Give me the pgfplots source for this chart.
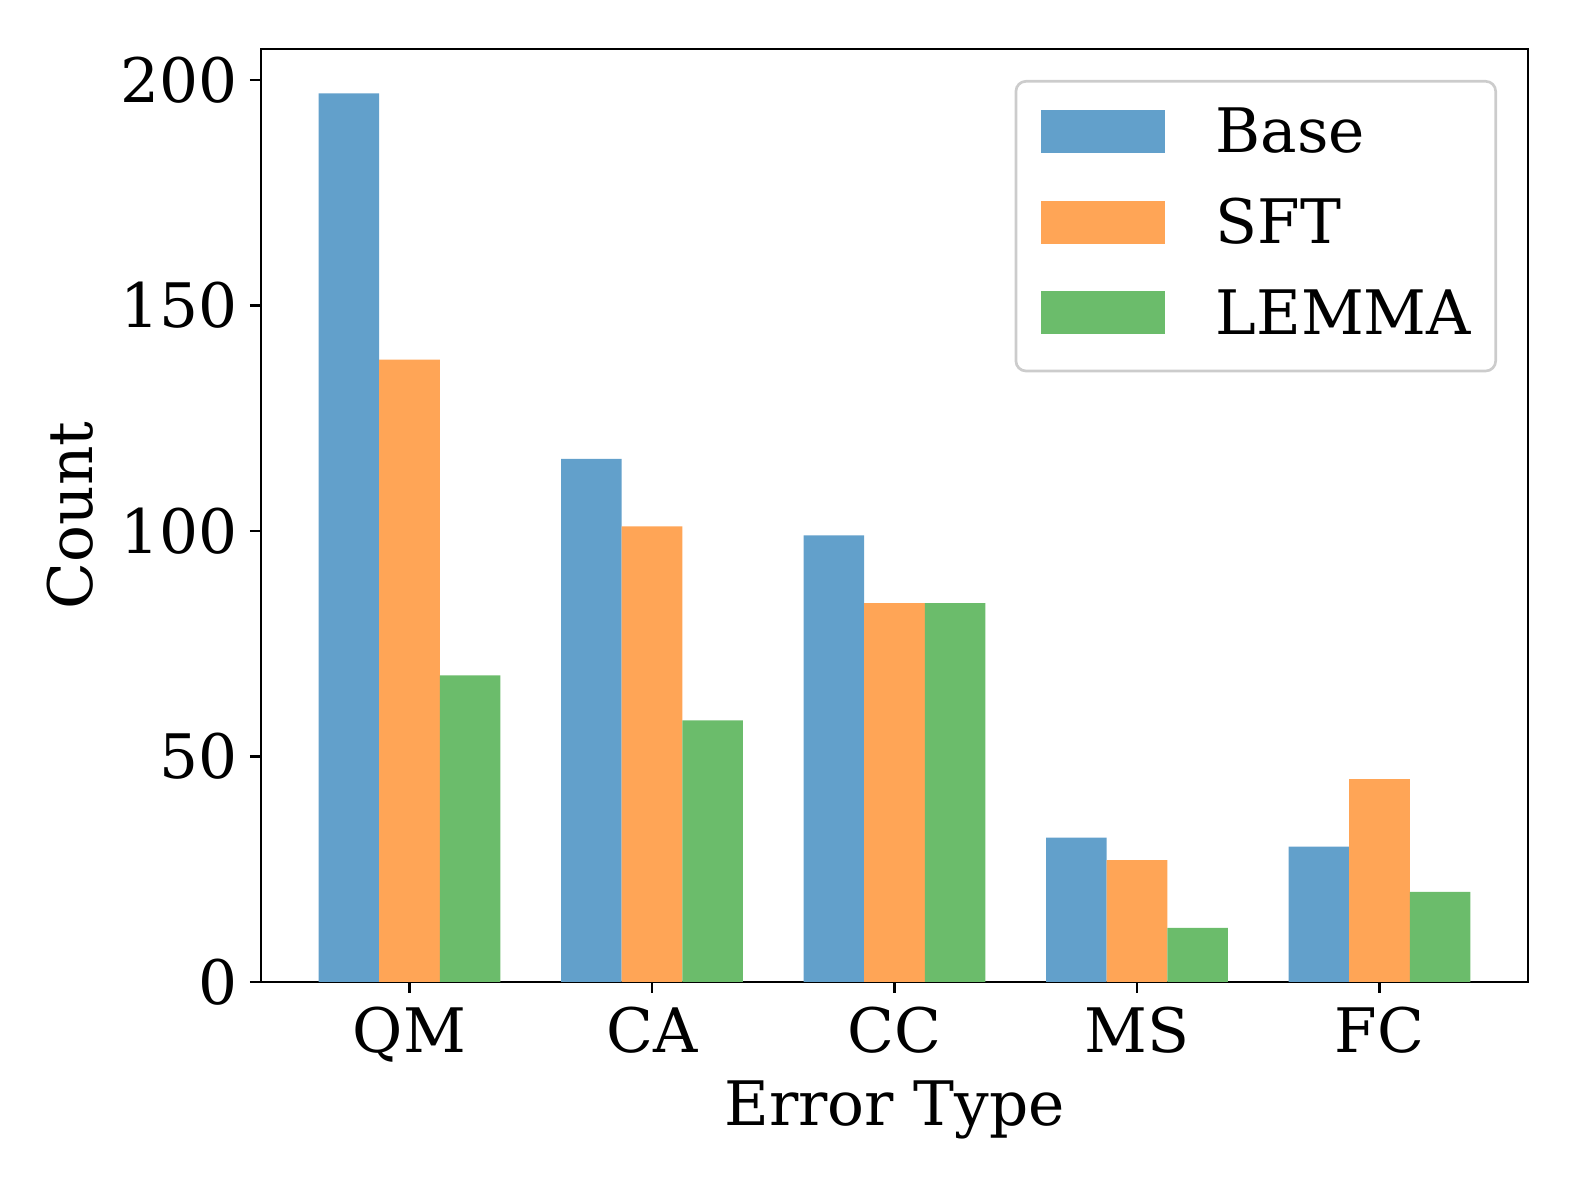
\documentclass[border=0pt]{standalone}
\usepackage{fontspec}
\setmainfont{DejaVu Serif}
\usepackage{pgfplots}
\pgfplotsset{compat=1.18}

\definecolor{cbase}{RGB}{98,160,203}
\definecolor{csft}{RGB}{255,165,86}
\definecolor{clemma}{RGB}{107,188,107}

\begin{document}%
\begin{tikzpicture}[font=\fontsize{18.4}{22}\selectfont]
\useasboundingbox (-78.3pt,-60.3pt) rectangle (394.8pt,294.6pt);
\begin{axis}[
    at={(0pt,0pt)}, anchor=south west,
    scale only axis,
    width=380.1pt, height=279.9pt,
    xmin=-0.6125, xmax=4.6125,
    ymin=0, ymax=206.85,
    xtick={0,1,2,3,4},
    xticklabels={QM,CA,CC,MS,FC},
    ytick={0,50,100,150,200},
    tick align=outside,
    major tick length=3.3pt,
    xtick pos=bottom, ytick pos=left,
    axis line style={line width=0.8pt},
    every tick/.style={black, line width=0.8pt},
    xticklabel style={inner sep=4pt},
    yticklabel style={inner sep=3.5pt},
    /pgf/number format/assume math mode=true,
    xlabel={Error Type}, ylabel={Count},
    every axis x label/.style={at={(axis description cs:0.5,-0.137)}, anchor=center},
    every axis y label/.style={at={(axis description cs:-0.1508,0.5)}, rotate=90, anchor=center},
    ybar, bar width=0.25,
    legend cell align=left,
    legend image code/.code={
        \fill[#1, sharp corners, fill opacity=1] (0pt,-5.25pt) rectangle (37.2pt,7.65pt);
    },
    legend style={
        at={(axis description cs:1,1)}, anchor=north east,
        xshift=-9.3pt, yshift=-9.3pt,
        draw=black!20, line width=0.8pt, rounded corners=3pt,
        fill=white, fill opacity=0.8, text opacity=1,
        inner xsep=7.4pt, inner ysep=8.1pt,
        row sep=10.9pt, column sep=15.3pt,
        nodes={inner sep=0pt, text height=13.4pt, text depth=2.9pt},
    },
]
\addplot[draw=none, fill=cbase, bar shift=-0.25] coordinates {
    (0,197) (1,116) (2,99) (3,32) (4,30)
};
\addplot[draw=none, fill=csft, bar shift=0] coordinates {
    (0,138) (1,101) (2,84) (3,27) (4,45)
};
\addplot[draw=none, fill=clemma, bar shift=0.25] coordinates {
    (0,68) (1,58) (2,84) (3,12) (4,20)
};
\legend{Base,SFT,LEMMA}
\end{axis}
\end{tikzpicture}%
\end{document}
